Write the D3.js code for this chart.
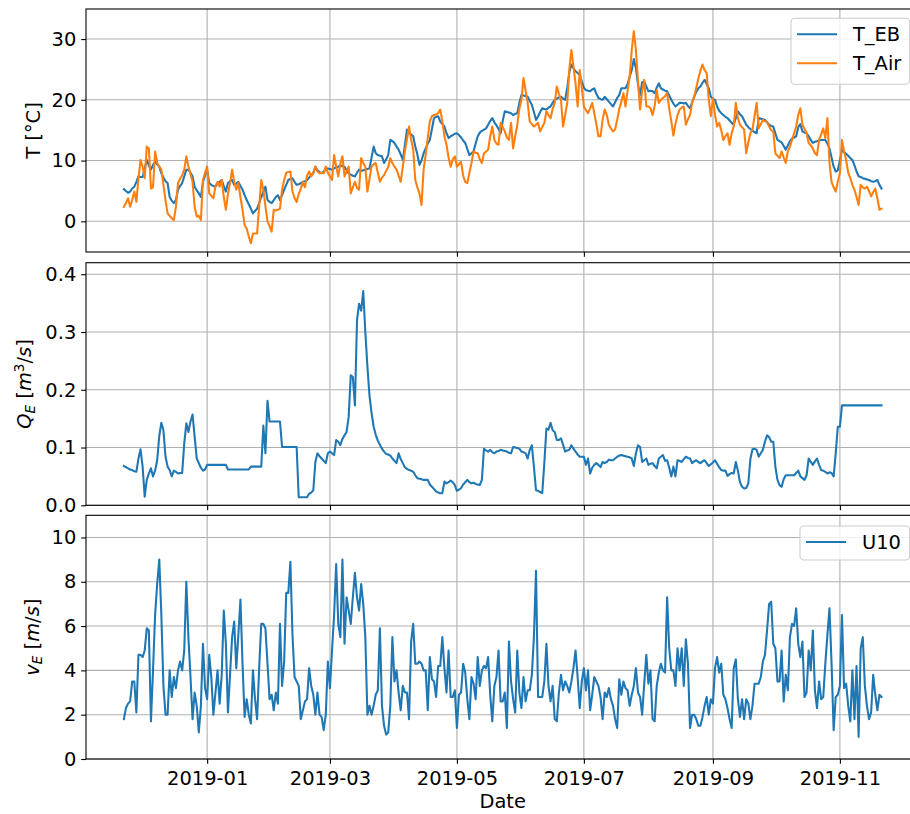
<!DOCTYPE html>
<html>
<head>
<meta charset="utf-8">
<script src="https://cdn.jsdelivr.net/npm/d3@7"></script>
<style>
  body { margin: 0; background: #fff; }
  svg { display: block; font-family: "DejaVu Sans", sans-serif; }
</style>
</head>
<body>
<svg id="chart" width="910" height="814"></svg>
<script>
// Daily series, first value on this date
const startDate = "2018-11-22";

// Water temperature from the energy balance model [°C]
const tEB = [
  5.3, 5.0, 4.7, 4.9, 5.4, 5.7, 6.5, 7.4, 7.3, 7.3,
  8.6, 10.1, 9.2, 8.5, 9.3, 9.8, 9.4, 9.0, 7.9, 7.2,
  6.6, 6.3, 4.0, 3.4, 3.0, 3.5, 5.2, 5.8, 6.3, 7.4,
  8.5, 8.5, 8.0, 7.4, 5.7, 5.1, 4.6, 4.0, 6.5, 7.5,
  8.5, 6.3, 6.0, 5.8, 5.7, 6.2, 6.5, 6.8, 5.8, 4.9,
  6.3, 6.6, 6.8, 6.0, 6.2, 6.5, 5.8, 5.2, 4.3, 3.5,
  2.8, 2.1, 1.3, 1.7, 2.1, 3.0, 4.0, 4.9, 5.7, 3.5,
  3.2, 3.0, 3.5, 4.0, 4.3, 3.5, 4.3, 5.2, 6.0, 6.8,
  7.0, 7.1, 6.5, 6.0, 6.1, 6.3, 6.5, 6.6, 6.8, 7.2,
  7.6, 7.9, 9.0, 8.4, 8.1, 7.9, 8.2, 8.5, 8.7, 8.6,
  8.5, 8.7, 8.9, 9.0, 9.2, 9.1, 9.0, 8.4, 7.9, 7.7,
  7.5, 7.4, 8.0, 8.5, 8.3, 8.4, 8.5, 8.6, 8.7, 10.5,
  12.3, 11.2, 10.9, 10.8, 10.7, 9.6, 10.2, 10.9, 13.4, 13.2,
  12.9, 12.3, 11.8, 11.0, 10.1, 12.5, 15.1, 14.6, 14.3, 14.0,
  12.3, 11.0, 9.3, 10.0, 11.2, 12.0, 12.8, 13.4, 15.2, 17.0,
  17.2, 17.3, 16.4, 16.0, 15.6, 14.5, 13.7, 14.0, 14.2, 14.4,
  14.5, 14.2, 13.8, 13.3, 12.9, 11.9, 10.9, 11.2, 11.5, 12.8,
  14.0, 14.6, 14.9, 15.1, 15.3, 15.9, 16.5, 17.0, 16.3, 15.8,
  15.2, 14.5, 16.5, 18.1, 18.0, 17.9, 17.8, 17.5, 17.7, 17.8,
  19.5, 20.8, 20.7, 20.6, 20.5, 19.8, 19.2, 18.0, 16.7, 17.3,
  18.0, 18.6, 18.5, 18.4, 18.7, 18.9, 19.5, 20.0, 20.2, 20.4,
  20.5, 20.2, 20.0, 22.0, 24.5, 25.8, 25.2, 24.7, 24.4, 24.1,
  23.0, 22.0, 21.6, 21.5, 21.4, 21.7, 21.9, 21.0, 20.3, 20.1,
  20.0, 20.5, 20.1, 19.7, 19.3, 18.9, 19.6, 20.3, 20.8, 21.9,
  21.9, 21.9, 22.6, 23.8, 24.9, 26.7, 25.2, 22.5, 20.8, 22.9,
  23.0, 22.2, 21.4, 21.5, 21.4, 21.1, 22.0, 22.7, 21.9, 21.7,
  21.5, 21.4, 20.7, 20.0, 19.4, 18.9, 19.2, 19.5, 19.5, 19.4,
  19.5, 19.0, 18.6, 19.6, 20.5, 21.3, 21.9, 22.2, 22.8, 23.3,
  22.6, 21.9, 20.5, 20.2, 20.0, 18.9, 18.2, 17.8, 17.5, 17.2,
  17.0, 16.6, 16.2, 15.9, 17.0, 18.1, 17.6, 17.3, 16.6, 15.9,
  15.5, 15.2, 14.9, 14.7, 14.5, 17.0, 16.9, 16.8, 16.7, 16.3,
  15.9, 15.7, 15.6, 14.5, 13.4, 13.2, 13.0, 12.4, 11.8, 12.5,
  13.2, 13.6, 13.8, 14.0, 15.5, 16.0, 14.8, 14.6, 14.5, 14.0,
  13.4, 12.9, 13.1, 13.2, 13.3, 13.4, 13.4, 13.4, 12.8, 12.0,
  10.5, 9.0, 8.2, 8.4, 10.0, 11.8, 11.4, 11.1, 10.8, 10.4,
  10.1, 9.2, 8.2, 7.4, 7.3, 7.1, 7.0, 6.9, 6.8, 6.6,
  6.5, 6.6, 6.8, 6.0, 5.4
];

// Air temperature [°C]
const tAir = [
  2.4, 3.0, 3.8, 2.4, 3.5, 4.9, 3.2, 7.0, 10.1, 9.0,
  7.1, 12.3, 12.0, 5.4, 5.6, 11.5, 9.6, 9.0, 8.5, 6.0,
  3.5, 1.3, 0.9, 0.5, 0.2, 2.4, 6.3, 7.0, 7.6, 8.5,
  10.7, 9.0, 7.8, 6.5, 2.4, 0.8, 0.9, 0.2, 6.8, 8.0,
  9.0, 4.6, 4.2, 3.8, 5.8, 6.5, 5.7, 6.8, 4.0, 1.9,
  4.5, 6.3, 8.5, 6.5, 5.2, 6.3, 4.0, 1.9, -0.6, -1.2,
  -2.5, -3.6, -2.0, -2.0, -2.0, 2.5, 6.8, 5.2, 2.5, 0.0,
  -0.8, -1.7, 1.9, 1.8, 1.9, 2.1, 5.2, 6.8, 8.0, 8.1,
  8.2, 4.9, 3.8, 3.2, 4.5, 5.4, 6.5, 5.6, 7.5, 8.2,
  7.4, 8.0, 9.0, 8.2, 7.9, 8.0, 7.9, 9.0, 8.0, 7.4,
  6.8, 10.9, 9.0, 7.4, 9.5, 10.7, 7.4, 8.2, 9.0, 4.6,
  5.6, 6.5, 5.5, 5.2, 10.4, 9.6, 9.0, 4.9, 7.0, 9.0,
  9.4, 9.6, 8.0, 6.5, 7.2, 7.6, 8.3, 8.9, 10.4, 9.6,
  9.0, 8.5, 7.5, 6.5, 9.0, 11.5, 13.5, 15.6, 13.5, 11.8,
  6.8, 5.6, 4.6, 2.7, 8.5, 11.0, 13.7, 16.5, 17.3, 17.5,
  17.6, 17.8, 18.4, 16.4, 14.0, 12.6, 10.5, 9.0, 10.2, 10.7,
  9.0, 9.4, 9.8, 7.5, 6.5, 6.3, 8.0, 9.6, 11.5, 11.3,
  11.2, 10.2, 9.6, 11.2, 11.5, 11.8, 14.0, 15.6, 13.4, 12.8,
  12.6, 16.2, 15.5, 14.8, 13.8, 13.4, 16.2, 12.0, 14.0, 15.9,
  18.5, 20.0, 23.6, 21.5, 19.5, 16.4, 16.0, 15.6, 15.9, 16.2,
  14.8, 15.5, 16.2, 18.1, 17.5, 17.0, 18.5, 19.5, 22.2, 21.0,
  20.0, 15.6, 17.5, 19.5, 25.0, 28.2, 25.5, 22.7, 18.9, 24.9,
  22.0, 18.9, 18.3, 17.8, 18.6, 19.5, 17.8, 16.0, 14.0, 14.0,
  16.7, 18.4, 17.5, 15.9, 15.3, 14.8, 15.1, 16.7, 18.5, 19.7,
  21.1, 18.9, 21.5, 23.8, 28.2, 31.3, 28.2, 23.0, 18.4, 21.5,
  23.3, 18.9, 18.9, 18.6, 17.5, 19.0, 21.6, 19.5, 20.0, 20.3,
  20.6, 21.1, 18.6, 16.5, 14.1, 16.0, 17.5, 18.4, 18.7, 18.9,
  15.9, 16.8, 17.5, 19.5, 20.5, 22.0, 23.5, 24.8, 25.8, 24.9,
  24.4, 20.0, 17.3, 20.3, 17.5, 15.6, 16.2, 15.0, 13.4, 14.0,
  14.5, 12.6, 14.5, 15.6, 19.5, 17.0, 15.9, 15.5, 15.1, 11.2,
  13.0, 14.5, 15.1, 17.3, 19.5, 15.3, 16.0, 16.7, 16.5, 16.4,
  15.6, 15.0, 14.8, 11.2, 10.8, 10.4, 11.5, 10.5, 9.6, 11.5,
  12.3, 13.4, 14.5, 15.6, 17.5, 18.6, 15.9, 15.2, 14.5, 12.9,
  12.5, 12.0, 11.2, 10.9, 13.4, 14.3, 15.3, 13.7, 17.0, 9.6,
  6.5, 5.6, 4.9, 6.5, 7.9, 13.4, 11.5, 10.1, 8.0, 7.1,
  6.0, 5.2, 4.0, 2.7, 6.0, 5.6, 5.4, 5.7, 5.0, 4.1,
  4.8, 5.4, 3.8, 1.9, 2.1
];

// Discharge Q_E [m^3/s]
const qE = [
  0.068, 0.066, 0.064, 0.062, 0.061, 0.059, 0.058, 0.081, 0.097, 0.067,
  0.015, 0.044, 0.055, 0.064, 0.050, 0.060, 0.078, 0.120, 0.143, 0.130,
  0.084, 0.067, 0.061, 0.050, 0.060, 0.058, 0.055, 0.056, 0.056, 0.107,
  0.142, 0.127, 0.145, 0.157, 0.119, 0.081, 0.073, 0.065, 0.060, 0.062,
  0.070, 0.070, 0.070, 0.070, 0.070, 0.070, 0.070, 0.070, 0.070, 0.070,
  0.062, 0.062, 0.062, 0.062, 0.062, 0.062, 0.062, 0.062, 0.062, 0.062,
  0.062, 0.067, 0.067, 0.067, 0.067, 0.067, 0.067, 0.138, 0.090, 0.181,
  0.145, 0.145, 0.145, 0.145, 0.145, 0.145, 0.101, 0.101, 0.101, 0.101,
  0.101, 0.101, 0.101, 0.101, 0.014, 0.014, 0.014, 0.014, 0.014, 0.020,
  0.022, 0.026, 0.075, 0.090, 0.085, 0.081, 0.077, 0.073, 0.090, 0.093,
  0.090, 0.087, 0.113, 0.110, 0.104, 0.115, 0.121, 0.127, 0.153, 0.225,
  0.222, 0.173, 0.320, 0.349, 0.337, 0.371, 0.300, 0.240, 0.190, 0.160,
  0.136, 0.122, 0.112, 0.105, 0.098, 0.093, 0.089, 0.088, 0.086, 0.081,
  0.077, 0.073, 0.090, 0.080, 0.073, 0.066, 0.063, 0.061, 0.060, 0.058,
  0.052, 0.047, 0.046, 0.045, 0.044, 0.044, 0.044, 0.036, 0.032, 0.028,
  0.024, 0.022, 0.021, 0.021, 0.041, 0.038, 0.040, 0.043, 0.040, 0.035,
  0.025, 0.027, 0.030, 0.036, 0.040, 0.044, 0.040, 0.038, 0.039, 0.037,
  0.036, 0.035, 0.044, 0.098, 0.095, 0.093, 0.096, 0.092, 0.090, 0.093,
  0.094, 0.096, 0.095, 0.094, 0.093, 0.091, 0.090, 0.101, 0.100, 0.099,
  0.098, 0.093, 0.092, 0.090, 0.081, 0.096, 0.104, 0.067, 0.026, 0.025,
  0.023, 0.021, 0.073, 0.133, 0.131, 0.143, 0.130, 0.127, 0.113, 0.113,
  0.116, 0.105, 0.093, 0.095, 0.096, 0.104, 0.098, 0.093, 0.088, 0.084,
  0.084, 0.084, 0.070, 0.081, 0.055, 0.065, 0.070, 0.073, 0.070, 0.066,
  0.075, 0.073, 0.075, 0.079, 0.078, 0.078, 0.081, 0.084, 0.086, 0.087,
  0.086, 0.085, 0.084, 0.083, 0.081, 0.068, 0.090, 0.104, 0.101, 0.075,
  0.078, 0.081, 0.070, 0.072, 0.073, 0.068, 0.064, 0.081, 0.084, 0.087,
  0.077, 0.078, 0.065, 0.050, 0.067, 0.050, 0.078, 0.077, 0.075, 0.080,
  0.084, 0.082, 0.081, 0.073, 0.076, 0.078, 0.075, 0.073, 0.076, 0.078,
  0.073, 0.068, 0.071, 0.074, 0.078, 0.072, 0.066, 0.061, 0.060, 0.060,
  0.051, 0.054, 0.056, 0.055, 0.075, 0.060, 0.040, 0.032, 0.029, 0.030,
  0.038, 0.080, 0.097, 0.098, 0.096, 0.084, 0.090, 0.096, 0.110, 0.121,
  0.118, 0.110, 0.110, 0.067, 0.044, 0.035, 0.032, 0.045, 0.052, 0.052,
  0.052, 0.052, 0.052, 0.056, 0.060, 0.050, 0.047, 0.044, 0.052, 0.081,
  0.075, 0.070, 0.076, 0.081, 0.070, 0.061, 0.060, 0.058, 0.055, 0.057,
  0.056, 0.050, 0.090, 0.136, 0.136, 0.173, 0.173, 0.173, 0.173, 0.173,
  0.173, 0.173, 0.173, 0.173, 0.173, 0.173, 0.173, 0.173, 0.173, 0.173,
  0.173, 0.173, 0.173, 0.173, 0.173
];

// Wind speed at 10 m [m/s]
const u10 = [
  1.8, 2.3, 2.5, 2.6, 3.5, 3.5, 2.1, 4.7, 4.7, 4.6,
  4.9, 5.9, 5.8, 1.7, 4.0, 6.5, 7.9, 9.0, 6.5, 3.3,
  2.0, 2.0, 4.0, 2.8, 3.7, 3.2, 4.0, 4.4, 4.0, 4.9,
  8.0, 5.5, 3.7, 1.8, 3.0, 2.4, 1.2, 2.4, 5.2, 3.2,
  2.7, 4.7, 3.7, 2.0, 3.0, 4.0, 2.5, 3.8, 6.7, 5.2,
  2.1, 3.8, 5.5, 6.2, 4.1, 5.6, 7.2, 4.3, 1.9, 2.7,
  2.0, 1.6, 4.0, 2.7, 1.8, 4.1, 6.1, 6.1, 5.9, 4.3,
  2.7, 2.9, 2.2, 3.0, 2.5, 6.1, 3.3, 4.4, 7.5, 7.5,
  8.9, 5.6, 3.7, 3.5, 3.3, 1.8, 2.2, 2.6, 2.7, 4.1,
  3.3, 2.9, 2.0, 3.0, 2.0, 1.9, 1.3, 2.0, 4.4, 3.2,
  4.9, 6.5, 8.8, 6.1, 5.5, 9.0, 5.2, 7.3, 6.7, 6.1,
  7.3, 8.4, 7.3, 6.7, 7.9, 7.0, 5.5, 2.0, 2.4, 2.0,
  2.4, 2.9, 3.1, 5.9, 2.4, 1.5, 1.1, 1.2, 2.4, 5.5,
  3.5, 4.0, 3.0, 2.2, 3.3, 3.0, 3.0, 1.8, 5.3, 6.1,
  4.3, 4.3, 4.4, 4.3, 4.0, 4.0, 2.2, 4.6, 3.6, 3.5,
  2.8, 4.2, 4.2, 5.5, 4.1, 3.0, 4.9, 2.8, 2.8, 3.1,
  1.4, 2.9, 3.0, 4.3, 3.9, 2.7, 1.8, 3.7, 3.4, 2.7,
  4.6, 3.3, 4.0, 4.2, 4.1, 4.6, 2.9, 1.7, 3.3, 3.7,
  4.9, 2.6, 2.6, 3.0, 1.4, 5.3, 3.5, 2.7, 2.1, 4.9,
  3.0, 2.3, 3.7, 2.6, 3.1, 3.1, 3.8, 5.5, 8.5, 2.8,
  2.8, 2.8, 3.5, 5.2, 3.3, 2.6, 3.3, 1.8, 1.7, 3.0,
  3.8, 3.1, 3.5, 3.3, 3.0, 3.5, 4.1, 4.9, 3.7, 2.3,
  3.5, 4.1, 3.1, 4.0, 2.2, 2.9, 3.7, 3.5, 3.3, 2.8,
  1.8, 3.0, 2.8, 3.2, 2.7, 2.4, 1.8, 1.4, 3.6, 2.9,
  3.5, 3.2, 3.1, 2.4, 2.9, 3.3, 4.1, 3.0, 2.8, 2.0,
  3.4, 4.7, 3.4, 4.0, 1.8, 1.7, 3.3, 3.9, 4.3, 4.0,
  3.9, 7.3, 5.0, 4.0, 4.0, 3.3, 5.0, 4.0, 5.0, 3.3,
  5.4, 4.3, 1.4, 2.0, 2.0, 1.8, 1.5, 1.5, 1.9, 2.4,
  2.8, 2.0, 2.7, 2.5, 4.1, 4.6, 3.9, 4.3, 2.9, 2.7,
  2.3, 1.8, 1.4, 4.1, 4.5, 2.7, 1.9, 2.7, 1.8, 2.7,
  2.5, 1.8, 2.4, 3.4, 3.4, 3.4, 3.7, 4.4, 4.7, 5.8,
  7.0, 7.1, 5.2, 5.0, 3.5, 3.5, 4.9, 2.6, 3.8, 3.1,
  5.5, 6.1, 6.0, 6.8, 5.2, 4.6, 5.3, 2.8, 3.0, 4.9,
  4.0, 5.8, 3.1, 2.3, 3.5, 2.7, 2.8, 4.3, 5.6, 6.8,
  4.3, 1.3, 2.8, 2.9, 3.3, 6.5, 3.2, 3.4, 2.4, 1.7,
  4.0, 1.8, 4.2, 1.0, 5.0, 5.5, 3.3, 2.4, 1.8, 2.1,
  3.8, 2.9, 2.2, 2.9, 2.8
];

// Axis ticks and labels
const xTickLabels = ["2019-01", "2019-03", "2019-05", "2019-07", "2019-09", "2019-11"];
const tTicks = [0, 10, 20, 30];
const qTicks = [0, 0.1, 0.2, 0.3, 0.4];
const vTicks = [0, 2, 4, 6, 8, 10];
const legendTop = ["T_EB", "T_Air"];
const legendBottom = ["U10"];

const C_BLUE = "#1f77b4", C_ORANGE = "#ff7f0e";
const FS = 19.44;            // 14 pt
const TICK = 4.86;           // 3.5 pt
const LW = 2.08;             // 1.5 pt
const GRID = "#b0b0b0";

const svg = d3.select("#chart");
const parse = d3.utcParse("%Y-%m-%d");
const day0 = parse(startDate);
const dates = tEB.map((_, i) => d3.utcDay.offset(day0, i));

// x domain: data extent with 5 % margins on both sides
const [d0, d1] = d3.extent(dates);
const pad = (d1 - d0) * 0.05;
const left = 86, right = 919.4;
const x = d3.scaleUtc()
  .domain([new Date(+d0 - pad), new Date(+d1 + pad)])
  .range([left, right]);
const xTicks = xTickLabels.map(s => parse(s + "-01"));

const panels = [
  { top: 9, bottom: 252, domain: [-5.05, 34.95], ticks: tTicks, fmt: d3.format("d") },
  { top: 262.7, bottom: 505.3, domain: [0, 0.42], ticks: qTicks, fmt: d3.format(".1f") },
  { top: 515.3, bottom: 759, domain: [0, 11], ticks: vTicks, fmt: d3.format("d") }
];

panels.forEach((p, k) => {
  p.y = d3.scaleLinear().domain(p.domain).range([p.bottom, p.top]);
  const g = svg.append("g");
  p.g = g;

  // grid
  g.append("g").selectAll("line").data(p.ticks).join("line")
    .attr("x1", left).attr("x2", right)
    .attr("y1", d => p.y(d)).attr("y2", d => p.y(d))
    .attr("stroke", GRID).attr("stroke-width", 1.1);
  g.append("g").selectAll("line").data(xTicks).join("line")
    .attr("x1", d => x(d)).attr("x2", d => x(d))
    .attr("y1", p.top).attr("y2", p.bottom)
    .attr("stroke", GRID).attr("stroke-width", 1.1);

  // y axis
  const ya = g.append("g").attr("transform", `translate(${left},0)`)
    .call(d3.axisLeft(p.y).tickValues(p.ticks).tickFormat(p.fmt)
      .tickSize(TICK).tickPadding(TICK).tickSizeOuter(0));
  ya.select(".domain").remove();
  ya.selectAll("line").attr("stroke", "#000").attr("stroke-width", 1.1);
  ya.selectAll("text").attr("font-size", FS).attr("fill", "#000")
    .attr("font-family", "DejaVu Sans");

  // x axis
  const xa = g.append("g").attr("transform", `translate(0,${p.bottom})`)
    .call(d3.axisBottom(x).tickValues(xTicks)
      .tickFormat(k === 2 ? d3.utcFormat("%Y-%m") : () => "")
      .tickSize(TICK).tickSizeOuter(0));
  xa.select(".domain").remove();
  xa.selectAll("line").attr("stroke", "#000").attr("stroke-width", 1.1);
  xa.selectAll("text").attr("font-size", FS).attr("fill", "#000")
    .attr("font-family", "DejaVu Sans")
    .attr("dy", null).attr("y", 785 - p.bottom);
});

// series lines
function drawLine(p, values, color) {
  const line = d3.line()
    .x((d, i) => x(dates[i]))
    .y(d => p.y(d));
  p.g.append("path").datum(values)
    .attr("d", line)
    .attr("fill", "none")
    .attr("stroke", color)
    .attr("stroke-width", LW)
    .attr("stroke-linejoin", "round")
    .attr("stroke-linecap", "square");
}
drawLine(panels[0], tEB, C_BLUE);
drawLine(panels[0], tAir, C_ORANGE);
drawLine(panels[1], qE, C_BLUE);
drawLine(panels[2], u10, C_BLUE);

// frames (spines)
panels.forEach(p => {
  p.g.append("rect")
    .attr("x", left).attr("y", p.top)
    .attr("width", right - left).attr("height", p.bottom - p.top)
    .attr("fill", "none").attr("stroke", "#000").attr("stroke-width", 1.1);
});

// legends
function legend(p, x0, y0, items, colors) {
  const lg = svg.append("g");
  const w = right - 9.7 - x0;
  const h = 15.6 + items.length * FS * 1.5 - FS * 0.5 + 0.0;
  lg.append("rect")
    .attr("x", x0).attr("y", y0).attr("width", w).attr("height", items.length === 2 ? 66 : 34)
    .attr("rx", 3.9).attr("ry", 3.9)
    .attr("fill", "#fff").attr("fill-opacity", 0.8)
    .attr("stroke", "#cccccc").attr("stroke-width", 1.1);
  items.forEach((name, i) => {
    const cy = y0 + 16 + i * 29;
    lg.append("line")
      .attr("x1", x0 + 6).attr("x2", x0 + 46)
      .attr("y1", cy).attr("y2", cy)
      .attr("stroke", colors[i]).attr("stroke-width", LW);
    lg.append("text")
      .attr("x", x0 + 62).attr("y", cy + 7.1)
      .attr("font-size", FS).attr("fill", "#000")
      .text(name);
  });
}
legend(panels[0], 791, 18.3, legendTop, [C_BLUE, C_ORANGE]);
legend(panels[2], 800, 526, legendBottom, [C_BLUE]);

// axis titles
const pc = panels.map(p => (p.top + p.bottom) / 2);
svg.append("text")
  .attr("transform", `translate(40.3,${pc[0]}) rotate(-90)`)
  .attr("text-anchor", "middle").attr("font-size", FS)
  .text("T [°C]");

const q = svg.append("text")
  .attr("transform", `translate(31,${pc[1]}) rotate(-90)`)
  .attr("text-anchor", "middle").attr("font-size", FS);
q.append("tspan").attr("font-style", "italic").text("Q");
q.append("tspan").attr("font-style", "italic").attr("font-size", FS * 0.7).attr("dy", 3.5).text("E");
q.append("tspan").attr("dy", -3.5).text(" [");
q.append("tspan").attr("font-style", "italic").text("m");
q.append("tspan").attr("font-size", FS * 0.7).attr("dy", -7.5).text("3");
q.append("tspan").attr("dy", 7.5).text("/");
q.append("tspan").attr("font-style", "italic").text("s");
q.append("tspan").text("]");

const v = svg.append("text")
  .attr("transform", `translate(38.5,${pc[2]}) rotate(-90)`)
  .attr("text-anchor", "middle").attr("font-size", FS);
v.append("tspan").attr("font-style", "italic").text("v");
v.append("tspan").attr("font-style", "italic").attr("font-size", FS * 0.7).attr("dy", 3.5).text("E");
v.append("tspan").attr("dy", -3.5).text(" [");
v.append("tspan").attr("font-style", "italic").text("m");
v.append("tspan").text("/");
v.append("tspan").attr("font-style", "italic").text("s");
v.append("tspan").text("]");

svg.append("text")
  .attr("x", (left + right) / 2).attr("y", 808)
  .attr("text-anchor", "middle").attr("font-size", FS)
  .text("Date");
</script>
</body>
</html>
